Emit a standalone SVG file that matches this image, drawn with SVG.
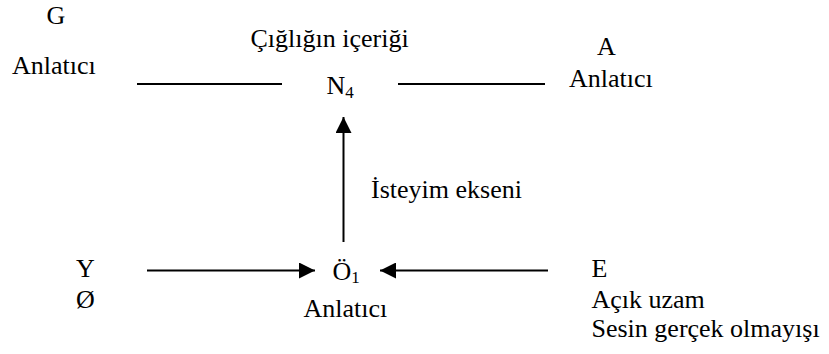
<svg xmlns="http://www.w3.org/2000/svg" width="829" height="354" viewBox="0 0 829 354">
<defs>
<style>
text{font-family:'Liberation Serif','Times New Roman',Times,serif;font-size:26px;fill:#000}
.sub{font-size:17px}
.ln{stroke:#000;stroke-width:2;fill:none}
</style>
<marker id="ah" markerUnits="userSpaceOnUse" markerWidth="16" markerHeight="16" refX="16" refY="8" orient="auto">
<path d="M0,0 L16,8 L0,16 z" fill="#000"/>
</marker>
</defs>
<rect width="829" height="354" fill="#fff"/>
<g id="connectors">
<line class="ln" x1="137" y1="84" x2="282" y2="84"/>
<line class="ln" x1="398" y1="84" x2="545" y2="84"/>
<line class="ln" x1="343.5" y1="242" x2="343.5" y2="117" marker-end="url(#ah)"/>
<line class="ln" x1="147" y1="270.5" x2="315" y2="270.5" marker-end="url(#ah)"/>
<line class="ln" x1="548" y1="270.5" x2="380" y2="270.5" marker-end="url(#ah)"/>
</g>
<g id="node-G" font-family="Liberation Serif, serif">
<text x="46.5" y="24">G</text>
<text x="12" y="74">Anlatıcı</text>
</g>
<g id="node-N4">
<text x="250.5" y="46.5">Çığlığın içeriği</text>
<text x="326.5" y="94">N<tspan class="sub" dy="4">4</tspan></text>
</g>
<g id="node-A">
<text x="597" y="55">A</text>
<text x="569" y="87">Anlatıcı</text>
</g>
<g id="axis-label">
<text x="371" y="198">İsteyim ekseni</text>
</g>
<g id="node-Y">
<text x="76" y="276.5">Y</text>
<text x="76" y="308">Ø</text>
</g>
<g id="node-O1">
<text x="332.5" y="279.5">Ö<tspan class="sub" dy="3">1</tspan></text>
<text x="303.5" y="316.5">Anlatıcı</text>
</g>
<g id="node-E">
<text x="591.5" y="276.5">E</text>
<text x="591.5" y="308">Açık uzam</text>
<text x="591.5" y="337">Sesin gerçek olmayışı</text>
</g>
</svg>
